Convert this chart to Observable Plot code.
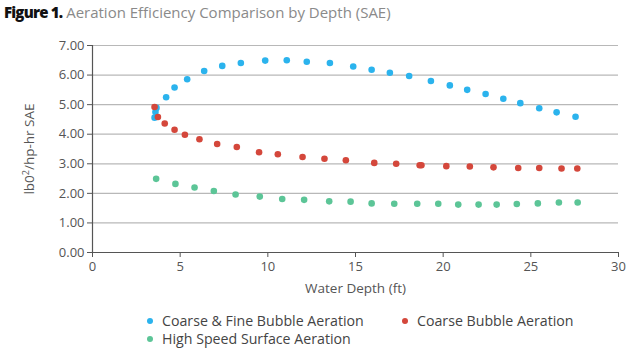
<!DOCTYPE html>
<html>
<head>
<meta charset="utf-8">
<script src="https://cdn.jsdelivr.net/npm/d3@7"></script>
<script src="https://cdn.jsdelivr.net/npm/@observablehq/plot@0.6"></script>
<style>
  body { margin: 0; background: #fff; font-family: "Open Sans", sans-serif; }
  #wrap { position: relative; width: 640px; height: 350px; overflow: hidden; }
  #title { position: absolute; left: 4px; top: 2px; font-size: 15px; color: #8a8a8a; white-space: nowrap; }
  #title b { color: #111; font-weight: 800; letter-spacing: -0.8px; }
  #chart { position: absolute; left: 0; top: 26px; }
  .leg { position: absolute; font-size: 14.2px; color: #444; white-space: nowrap; }
  .leg span.m { display: inline-block; width: 6px; height: 6px; border-radius: 50%; margin-right: 9px; vertical-align: middle; position: relative; top: -1px; }
</style>
</head>
<body>
<div id="wrap">
  <div id="title"><b>Figure 1.</b> Aeration Efficiency Comparison by Depth (SAE)</div>
  <div id="chart"></div>
  <div id="legend"></div>
</div>
<script>
const seriesNames = ["Coarse & Fine Bubble Aeration", "Coarse Bubble Aeration", "High Speed Surface Aeration"];
const seriesColors = ["#2bb3ed", "#d4473b", "#5cc597"];

const fineDepth = [3.54, 3.59, 3.65, 4.2, 4.68, 5.4, 6.37, 7.4, 8.46, 9.85, 11.08, 12.22, 13.54, 14.87, 15.92, 16.96, 18.06, 19.3, 20.38, 21.37, 22.42, 23.43, 24.4, 25.48, 26.47, 27.55];
const fineSAE   = [4.56, 4.75, 4.89, 5.25, 5.58, 5.86, 6.14, 6.31, 6.41, 6.49, 6.50, 6.45, 6.41, 6.29, 6.18, 6.08, 5.97, 5.80, 5.65, 5.50, 5.36, 5.20, 5.05, 4.88, 4.74, 4.59];

const coarseDepth = [3.54, 3.73, 4.12, 4.68, 5.27, 6.1, 7.11, 8.23, 9.5, 10.57, 11.98, 13.23, 14.45, 16.07, 17.32, 18.66, 18.76, 20.18, 21.52, 22.87, 24.28, 25.48, 26.75, 27.65];
const coarseSAE   = [4.92, 4.58, 4.36, 4.15, 3.98, 3.83, 3.67, 3.57, 3.39, 3.32, 3.23, 3.17, 3.12, 3.03, 3.00, 2.95, 2.95, 2.92, 2.91, 2.88, 2.86, 2.86, 2.84, 2.84];

const surfaceDepth = [3.63, 4.73, 5.82, 6.92, 8.16, 9.54, 10.82, 12.07, 13.5, 14.72, 15.92, 17.21, 18.52, 19.72, 20.86, 22.02, 23.05, 24.2, 25.4, 26.6, 27.67];
const surfaceSAE   = [2.49, 2.32, 2.20, 2.08, 1.96, 1.89, 1.81, 1.78, 1.73, 1.72, 1.66, 1.65, 1.65, 1.65, 1.62, 1.62, 1.62, 1.64, 1.66, 1.69, 1.69];

const xTicks = [0, 5, 10, 15, 20, 25, 30];
const yTicks = [0, 1, 2, 3, 4, 5, 6, 7];

const data = [
  ...fineDepth.map((d, i) => ({depth: d, sae: fineSAE[i], series: seriesNames[0]})),
  ...coarseDepth.map((d, i) => ({depth: d, sae: coarseSAE[i], series: seriesNames[1]})),
  ...surfaceDepth.map((d, i) => ({depth: d, sae: surfaceSAE[i], series: seriesNames[2]}))
];

const plot = Plot.plot({
  width: 640,
  height: 280,
  marginLeft: 92,
  marginRight: 22,
  marginTop: 19,
  marginBottom: 54,
  style: { fontFamily: "Open Sans, sans-serif", fontSize: "13px", color: "#555", background: "#fff" },
  x: { domain: [0, 30], ticks: xTicks, label: null },
  y: { domain: [0, 7], ticks: yTicks, label: null },
  color: { domain: seriesNames, range: seriesColors },
  marks: [
    Plot.gridY(yTicks.filter(d => d > 0), { stroke: "#b8b8b8", strokeOpacity: 1, strokeWidth: 1.2 }),
    Plot.axisY({ ticks: yTicks, tickFormat: d => d.toFixed(2), tickSize: 5, tickPadding: 3, stroke: "#555", label: null, fontSize: 13 }),
    Plot.axisX({ ticks: xTicks, tickSize: 5, tickPadding: 4, stroke: "#555", label: null, fontSize: 13 }),
    Plot.ruleX([0], { stroke: "#555", strokeWidth: 1.2 }),
    Plot.ruleY([0], { stroke: "#555", strokeWidth: 1.2 }),
    Plot.dot(data, { x: "depth", y: "sae", fill: "series", r: 3.3, stroke: null }),
    Plot.text(["Water Depth (ft)"], { frameAnchor: "bottom", dy: 40, fontSize: 13.5, fill: "#555", text: d => d }),
  ]
});

// Y axis label (rotated)
const svg = d3.select(plot);
svg.append("text")
  .attr("transform", "translate(34,123) rotate(-90)")
  .attr("text-anchor", "middle")
  .attr("fill", "#555")
  .style("font-size", "13.5px")
  .html('lb0<tspan dy="-5" font-size="9px">2</tspan><tspan dy="5">/hp-hr SAE</tspan>');

document.getElementById("chart").appendChild(plot);

// Legend
const legPos = [[147, 311], [402, 311], [147, 329]];
const leg = document.getElementById("legend");
seriesNames.forEach((name, i) => {
  const el = document.createElement("div");
  el.className = "leg";
  el.style.left = legPos[i][0] + "px";
  el.style.top = legPos[i][1] + "px";
  el.innerHTML = `<span class="m" style="background:${seriesColors[i]}"></span>${name}`;
  leg.appendChild(el);
});
</script>
</body>
</html>
